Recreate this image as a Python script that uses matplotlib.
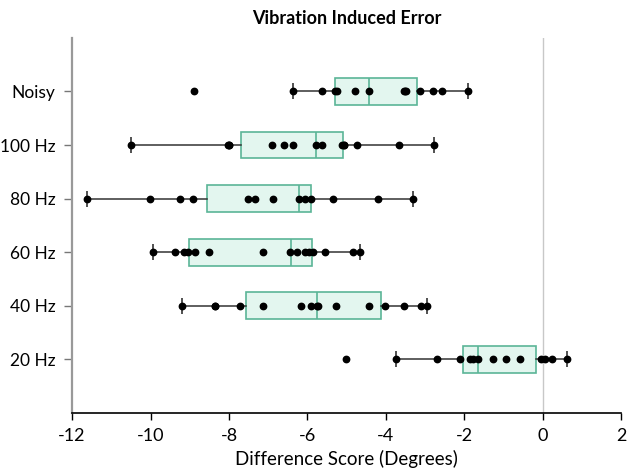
import matplotlib.pyplot as plt

# rows bottom -> top
labels = ["20 Hz", "40 Hz", "60 Hz", "80 Hz", "100 Hz", "Noisy"]

# box stats: q1, median, q3, whisker low, whisker high
q1 = [-2.04, -7.57, -9.02, -8.57, -7.70, -5.30]
med = [-1.65, -5.77, -6.43, -6.21, -5.79, -4.44]
q3 = [-0.17, -4.12, -5.89, -5.90, -5.09, -3.21]
whislo = [-3.75, -9.21, -9.94, -11.63, -10.50, -6.36]
whishi = [0.62, -2.96, -4.65, -3.30, -2.78, -1.92]

# individual scores
pts_20 = [-5.03, -3.75, -2.71, -2.11, -1.85, -1.79, -1.65, -1.28, -0.94, -0.58,
          -0.05, 0.05, 0.23, 0.62]
pts_40 = [-9.21, -8.37, -8.36, -7.71, -7.13, -6.16, -5.90, -5.77, -5.73, -5.28,
          -4.43, -4.02, -3.53, -3.11, -2.96]
pts_60 = [-9.94, -9.39, -9.16, -9.05, -8.88, -8.51, -7.13, -6.44, -6.27, -6.07,
          -5.97, -5.87, -5.56, -4.83, -4.65]
pts_80 = [-11.63, -10.02, -9.25, -8.92, -7.52, -7.35, -6.89, -6.22, -6.07, -5.91,
          -5.34, -4.21, -3.30]
pts_100 = [-10.50, -8.03, -8.01, -7.99, -6.90, -6.61, -6.36, -5.79, -5.63, -5.11,
           -5.08, -5.06, -4.73, -3.67, -2.78]
pts_noisy = [-8.89, -6.36, -5.64, -5.30, -5.25, -4.78, -4.44, -3.54, -3.51, -3.49,
             -3.14, -2.79, -2.57, -1.92]
points = [pts_20, pts_40, pts_60, pts_80, pts_100, pts_noisy]

plt.rcParams['font.family'] = ['Lato', 'DejaVu Sans']
plt.rcParams['axes.unicode_minus'] = False

fig = plt.figure(figsize=(6.27, 4.73), dpi=100)
ax = fig.add_axes([0.115, 0.127, 0.876, 0.793])

stats = []
for i in range(len(labels)):
    stats.append(dict(q1=q1[i], med=med[i], q3=q3[i], whislo=whislo[i],
                      whishi=whishi[i], fliers=[], label=labels[i]))

pos = list(range(1, len(labels) + 1))
ax.axvline(0, color='#c8c8c8', lw=1, zorder=0)
ax.bxp(stats, positions=pos, vert=False, widths=0.5, patch_artist=True,
       showfliers=False, showcaps=False,
       boxprops=dict(facecolor='#e3f6ef', edgecolor='#5bb597', lw=1.2),
       medianprops=dict(color='#5bb597', lw=1.2),
       whiskerprops=dict(color='#333333', lw=1.1),
       zorder=2)

# whisker end marks
for i, p in enumerate(pos):
    ax.plot([whislo[i], whishi[i]], [p, p], ls='none', marker='|', ms=11,
            mew=1.1, color='#222222', zorder=3)

for p, vals in zip(pos, points):
    ax.plot(vals, [p] * len(vals), 'o', color='black', ms=4.6, zorder=4)

ax.set_xlim(-12, 2)
ax.set_ylim(0, 7)
ax.set_xticks(range(-12, 3, 2))
ax.set_yticks(pos)
ax.set_yticklabels(labels)

for s in ['top', 'right']:
    ax.spines[s].set_visible(False)
ax.spines['left'].set_color('#999999')
ax.spines['left'].set_linewidth(1.6)
ax.spines['bottom'].set_color('black')
ax.spines['bottom'].set_linewidth(1.2)
ax.tick_params(axis='x', length=5, width=1, colors='black', labelsize=13, pad=6)
ax.tick_params(axis='y', length=6, width=1, color='#777777', labelsize=12.5, pad=6)

ax.set_xlabel('Difference Score (Degrees)', fontsize=13.5, labelpad=4)
ax.set_title('Vibration Induced Error', fontsize=13, fontweight='bold', pad=10)

fig.savefig('out.png', dpi=100)
